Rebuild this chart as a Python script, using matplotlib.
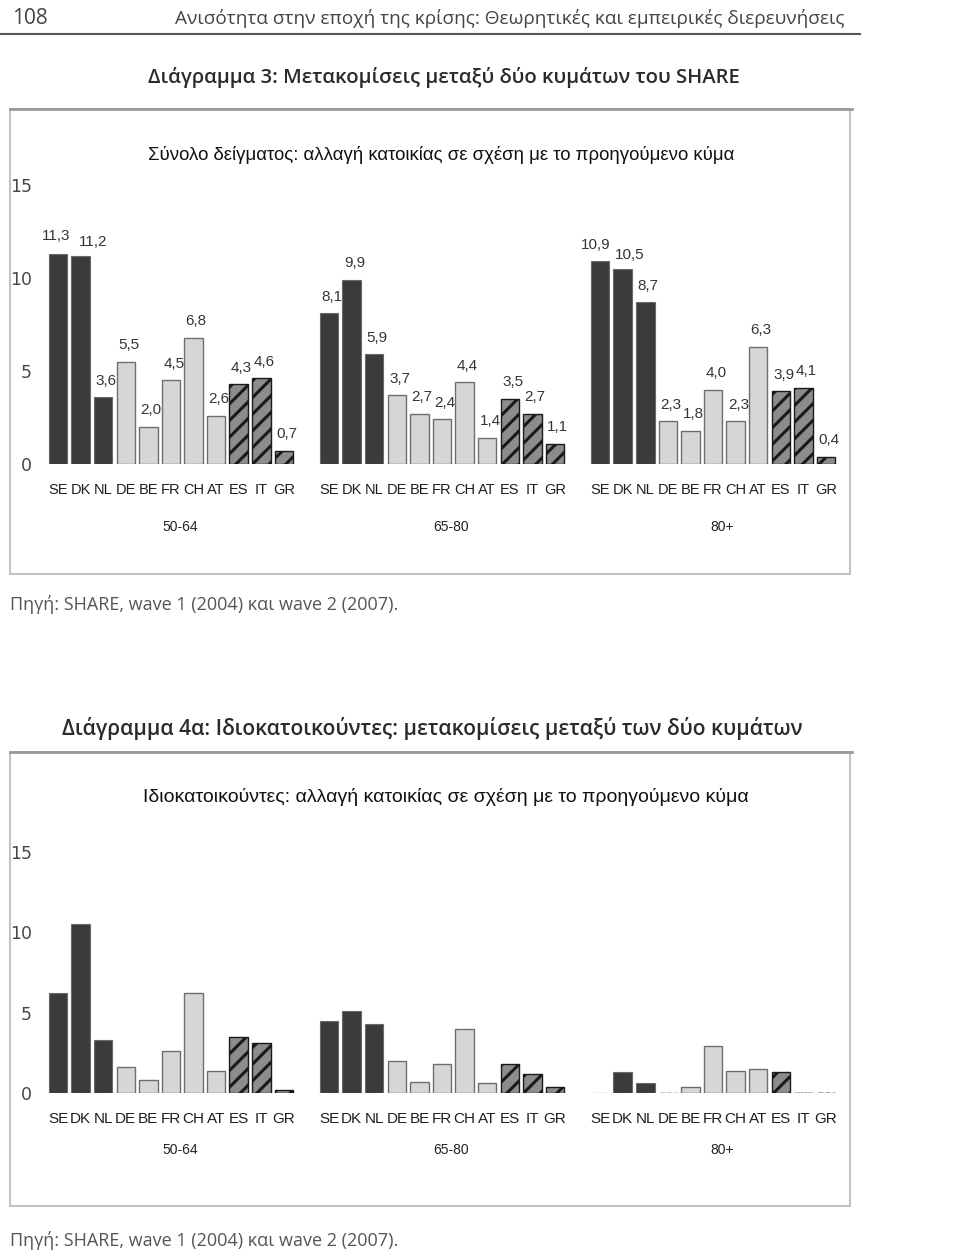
import matplotlib
matplotlib.use('Agg')
import matplotlib.pyplot as plt
from matplotlib.patches import Rectangle
from matplotlib.lines import Line2D

W, H = 960, 1256

countries = ['SE', 'DK', 'NL', 'DE', 'BE', 'FR', 'CH', 'AT', 'ES', 'IT', 'GR']
age_groups = ['50-64', '65-80', '80+']

# Διάγραμμα 3: σύνολο δείγματος
total_5064 = [11.3, 11.2, 3.6, 5.5, 2.0, 4.5, 6.8, 2.6, 4.3, 4.6, 0.7]
total_6580 = [8.1, 9.9, 5.9, 3.7, 2.7, 2.4, 4.4, 1.4, 3.5, 2.7, 1.1]
total_80 = [10.9, 10.5, 8.7, 2.3, 1.8, 4.0, 2.3, 6.3, 3.9, 4.1, 0.4]

# Διάγραμμα 4α: ιδιοκατοικούντες (χωρίς ετικέτες τιμών, εκτίμηση από το σχήμα)
owners_5064 = [6.2, 10.5, 3.3, 1.6, 0.8, 2.6, 6.2, 1.4, 3.5, 3.1, 0.2]
owners_6580 = [4.5, 5.1, 4.3, 2.0, 0.7, 1.8, 4.0, 0.6, 1.8, 1.2, 0.4]
owners_80 = [0.0, 1.3, 0.6, 0.0, 0.4, 2.9, 1.4, 1.5, 1.3, 0.0, 0.0]

# τρεις ομάδες χωρών: βόρεια (σκούρα), κεντρική Ευρώπη (ανοιχτά), νότος (διαγράμμιση)
styles = {
    'north': dict(color='#3b3b3b', edgecolor='#6a6a6a', lw=0.8),
    'centre': dict(color='#d6d6d6', edgecolor='#6e6e6e', lw=1.0),
    'south': dict(color='#8c8c8c', edgecolor='#1a1a1a', lw=1.0, hatch='//'),
}
region = ['north'] * 3 + ['centre'] * 5 + ['south'] * 3

# μετατόπιση ετικετών που αλλιώς πέφτουν η μία πάνω στην άλλη (σε points)
label_nudge = {(0, 0): (-1, 10), (0, 1): (9, 7), (2, 0): (-3, 9), (2, 1): (5, 7)}

plt.rcParams['hatch.linewidth'] = 2.2
fig = plt.figure(figsize=(W / 100, H / 100), dpi=100)
renderer = fig.canvas.get_renderer()


def fx(x):
    return x / W


def fy(y):
    return 1 - y / H


def fit_text(x0, x1, y, s, family, color, weight='normal', size=14):
    # κείμενο που πιάνει το πλάτος x0..x1 (σε pixels)
    t = fig.text(fx(x0), fy(y), s, family=family, color=color,
                 fontsize=size, fontweight=weight, ha='left', va='center')
    w = t.get_window_extent(renderer).width
    t.set_fontsize(size * (x1 - x0) / w)
    return t


# κεφαλίδα σελίδας
fig.text(fx(12), fy(18), '108', family='Open Sans', fontsize=15, color='#444444',
         va='center')
fit_text(175, 851, 18, 'Ανισότητα στην εποχή της κρίσης: Θεωρητικές και εμπειρικές διερευνήσεις',
         'Open Sans', '#444444')
fig.add_artist(Line2D([0, fx(860)], [fy(34), fy(34)], color='#555555', lw=1.5))


def draw_chart(title, title_x, title_y, box_top, box_bot, subtitle, sub_x, sub_y,
               ax_top, ax_bot, series, labels, tick_size, src_y, age_y):
    fit_text(title_x[0], title_x[1], title_y, title, 'Open Sans', '#2b2b2b', weight='semibold')
    fig.add_artist(Rectangle((fx(10), fy(box_bot)), fx(850) - fx(10), fy(box_top) - fy(box_bot),
                             fill=False, edgecolor='#b5b5b5', lw=1.2))
    fig.add_artist(Line2D([fx(10), fx(852)], [fy(box_top), fy(box_top)], color='#9a9a9a', lw=2))
    fit_text(sub_x[0], sub_x[1], sub_y, subtitle, 'Liberation Sans', '#111111')

    ax = fig.add_axes([fx(40), fy(ax_bot), fx(845) - fx(40), fy(ax_top) - fy(ax_bot)])
    pitch = (826 - 58) / 34
    ax.set_xlim(-18 / pitch, (845 - 58) / pitch)
    ax.set_ylim(0, 15)
    ax.set_facecolor('none')
    for s in ax.spines.values():
        s.set_visible(False)

    xs, names = [], []
    for g, vals in enumerate(series):
        for i, v in enumerate(vals):
            x = g * 12 + i
            st = styles[region[i]]
            ax.bar(x, v, width=0.82, color=st['color'], edgecolor=st['edgecolor'],
                   linewidth=st['lw'], hatch=st.get('hatch'),
                   linestyle='--' if v == 0 else '-')
            if labels:
                ax.annotate(f'{v:.1f}'.replace('.', ','), (x, v),
                            xytext=label_nudge.get((g, i), (2, 9)),
                            textcoords='offset points', ha='center', va='baseline',
                            fontsize=11, family='Liberation Sans', color='#353535')
            xs.append(x)
            names.append(countries[i])
        age_val = -(age_y - ax_bot) / (ax_bot - ax_top) * 15
        ax.text(g * 12 + 5.4, age_val, age_groups[g], ha='center', va='center',
                fontsize=10, family='Liberation Sans', color='#222222', clip_on=False)

    ax.set_xticks(xs, names, fontsize=tick_size, family='Liberation Sans', color='#1e1e1e')
    ax.tick_params(axis='x', length=0, pad=14)
    ax.set_yticks([0, 5, 10, 15])
    ax.tick_params(axis='y', length=0, pad=6, labelsize=12.5, labelcolor='#474747')

    fig.text(fx(10), fy(src_y), 'Πηγή: SHARE, wave 1 (2004) και wave 2 (2007).',
             family='Open Sans', fontsize=13, color='#555555', va='center')
    return ax


draw_chart('Διάγραμμα 3: Μετακομίσεις μεταξύ δύο κυμάτων του SHARE', (148, 742), 78,
           109, 574,
           'Σύνολο δείγματος: αλλαγή κατοικίας σε σχέση με το προηγούμενο κύμα', (148, 738), 155,
           185, 464, [total_5064, total_6580, total_80], True, 10.5, 605, 527)

draw_chart('Διάγραμμα 4α: Ιδιοκατοικούντες: μετακομίσεις μεταξύ των δύο κυμάτων', (62, 805), 728,
           752, 1206,
           'Ιδιοκατοικούντες: αλλαγή κατοικίας σε σχέση με το προηγούμενο κύμα', (143, 750), 797,
           852, 1093, [owners_5064, owners_6580, owners_80], False, 11, 1240, 1150)

fig.savefig('out.png', dpi=100)
